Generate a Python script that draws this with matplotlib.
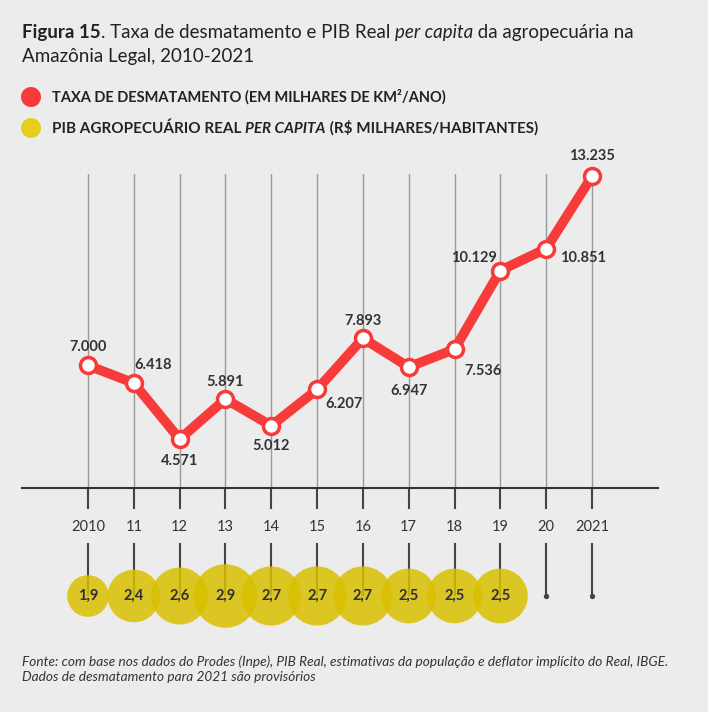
import matplotlib.pyplot as plt
from matplotlib.patches import Ellipse

# --- dados ---
anos = ['2010', '11', '12', '13', '14', '15', '16', '17', '18', '19', '20', '2021']
desmatamento = [7.000, 6.418, 4.571, 5.891, 5.012, 6.207, 7.893, 6.947, 7.536, 10.129, 10.851, 13.235]
rotulos_desm = ['7.000', '6.418', '4.571', '5.891', '5.012', '6.207', '7.893', '6.947',
                '7.536', '10.129', '10.851', '13.235']
pib_per_capita = [1.9, 2.4, 2.6, 2.9, 2.7, 2.7, 2.7, 2.5, 2.5, 2.5]
rotulos_pib = ['1,9', '2,4', '2,6', '2,9', '2,7', '2,7', '2,7', '2,5', '2,5', '2,5']

# deslocamento dos rótulos em pixels (dx, dy)
desloc = [(0, 18), (19, 18), (0, -22), (0, 17), (0, -20), (27, -15),
          (0, 17), (0, -24), (29, -22), (-26, 13), (37, -9), (0, 20)]

VERMELHO = '#f73b3b'
AMARELO = '#d8c000'
TEXTO = '#333333'
FUNDO = '#ececec'
FONTE = 'Lato'

plt.rcParams['font.family'] = [FONTE, 'DejaVu Sans']

W, H = 708, 712
fig = plt.figure(figsize=(W / 100, H / 100), dpi=100, facecolor=FUNDO)
renderer = fig.canvas.get_renderer()


def px(x, y):
    return x / W, 1 - y / H


def linha_rica(x, y, partes, size):
    """escreve trechos com pesos/estilos diferentes lado a lado"""
    for texto, peso, estilo in partes:
        t = fig.text(*px(x, y), texto, fontsize=size, fontweight=peso, fontstyle=estilo,
                     color='#222222', va='baseline', ha='left')
        bb = t.get_window_extent(renderer)
        x += bb.width


# --- título ---
linha_rica(22, 38, [('Figura 15', 'bold', 'normal'),
                    ('. Taxa de desmatamento e PIB Real ', 'normal', 'normal'),
                    ('per capita', 'normal', 'italic'),
                    (' da agropecuária na', 'normal', 'normal')], 13.5)
linha_rica(22, 62, [('Amazônia Legal, 2010-2021', 'normal', 'normal')], 13.5)

# --- legenda ---
for yy, cor in [(97, VERMELHO), (128, '#e3cf1c')]:
    fig.add_artist(Ellipse(px(31, yy), 20 / W, 20 / H, transform=fig.transFigure,
                           color=cor, lw=0))
linha_rica(52, 102, [('TAXA DE DESMATAMENTO (EM MILHARES DE KM²/ANO)', 'bold', 'normal')], 10.5)
linha_rica(52, 133, [('PIB AGROPECUÁRIO REAL ', 'bold', 'normal'),
                     ('PER CAPITA', 'bold', 'italic'),
                     (' (R$ MILHARES/HABITANTES)', 'bold', 'normal')], 11)

# --- gráfico de linha ---
x = list(range(len(anos)))
ax = fig.add_axes([22 / W, 1 - 488 / H, 636 / W, 314 / H])
ax.set_facecolor('none')
ax.set_xlim(-1.44, 12.44)
ax.set_ylim(2.96, 13.31)
ax.set_xticks(x)
ax.set_xticklabels(anos, fontsize=10.5, color=TEXTO)
ax.tick_params(axis='x', length=15, width=1.5, color='#444444', pad=8)
ax.set_yticks([])
for s in ['top', 'left', 'right']:
    ax.spines[s].set_visible(False)
ax.spines['bottom'].set_color('#333333')
ax.spines['bottom'].set_linewidth(1.5)
ax.grid(axis='x', color='#9a9a9a', lw=1)
ax.set_axisbelow(True)

ax.plot(x, desmatamento, color=VERMELHO, lw=7, solid_capstyle='round', zorder=3,
        marker='o', markersize=11.5, markerfacecolor='white', markeredgecolor=VERMELHO,
        markeredgewidth=2.5, clip_on=False)
for xi, yi, rot, (dx, dy) in zip(x, desmatamento, rotulos_desm, desloc):
    ax.annotate(rot, (xi, yi), xytext=(dx * 0.72, dy * 0.72), textcoords='offset points',
                ha='center', va='center', fontsize=10.5, fontweight='bold', color=TEXTO)

# --- bolhas do PIB (diâmetro proporcional ao valor) ---
ax2 = fig.add_axes([22 / W, 1 - 649 / H, 636 / W, 106 / H])
ax2.set_facecolor('none')
ax2.set_xlim(-1.44, 12.44)
ax2.set_ylim(-1, 1)
ax2.axis('off')
ax2.vlines(x, 0, 1, color='#444444', lw=1.5)
ax2.scatter(x[len(pib_per_capita):], [0] * (len(anos) - len(pib_per_capita)),
            s=8, color='#444444', zorder=3)
xb = x[:len(pib_per_capita)]
ax2.scatter(xb, [0] * len(xb), s=[(15.77 * v) ** 2 for v in pib_per_capita], color=AMARELO,
            alpha=0.85, lw=0, zorder=3, clip_on=False)
for xi, rot in zip(xb, rotulos_pib):
    ax2.text(xi, 0, rot, ha='center', va='center', fontsize=10.5, fontweight='bold',
             color='#2e2e3a', zorder=4)

# --- fonte ---
fig.text(*px(22, 666), 'Fonte: com base nos dados do Prodes (Inpe), PIB Real, estimativas da '
         'população e deflator implícito do Real, IBGE.', fontsize=9.8, fontstyle='italic',
         color=TEXTO, va='baseline')
fig.text(*px(22, 681), 'Dados de desmatamento para 2021 são provisórios', fontsize=9.8,
         fontstyle='italic', color=TEXTO, va='baseline')

fig.savefig('out.png', dpi=100, facecolor=FUNDO)
